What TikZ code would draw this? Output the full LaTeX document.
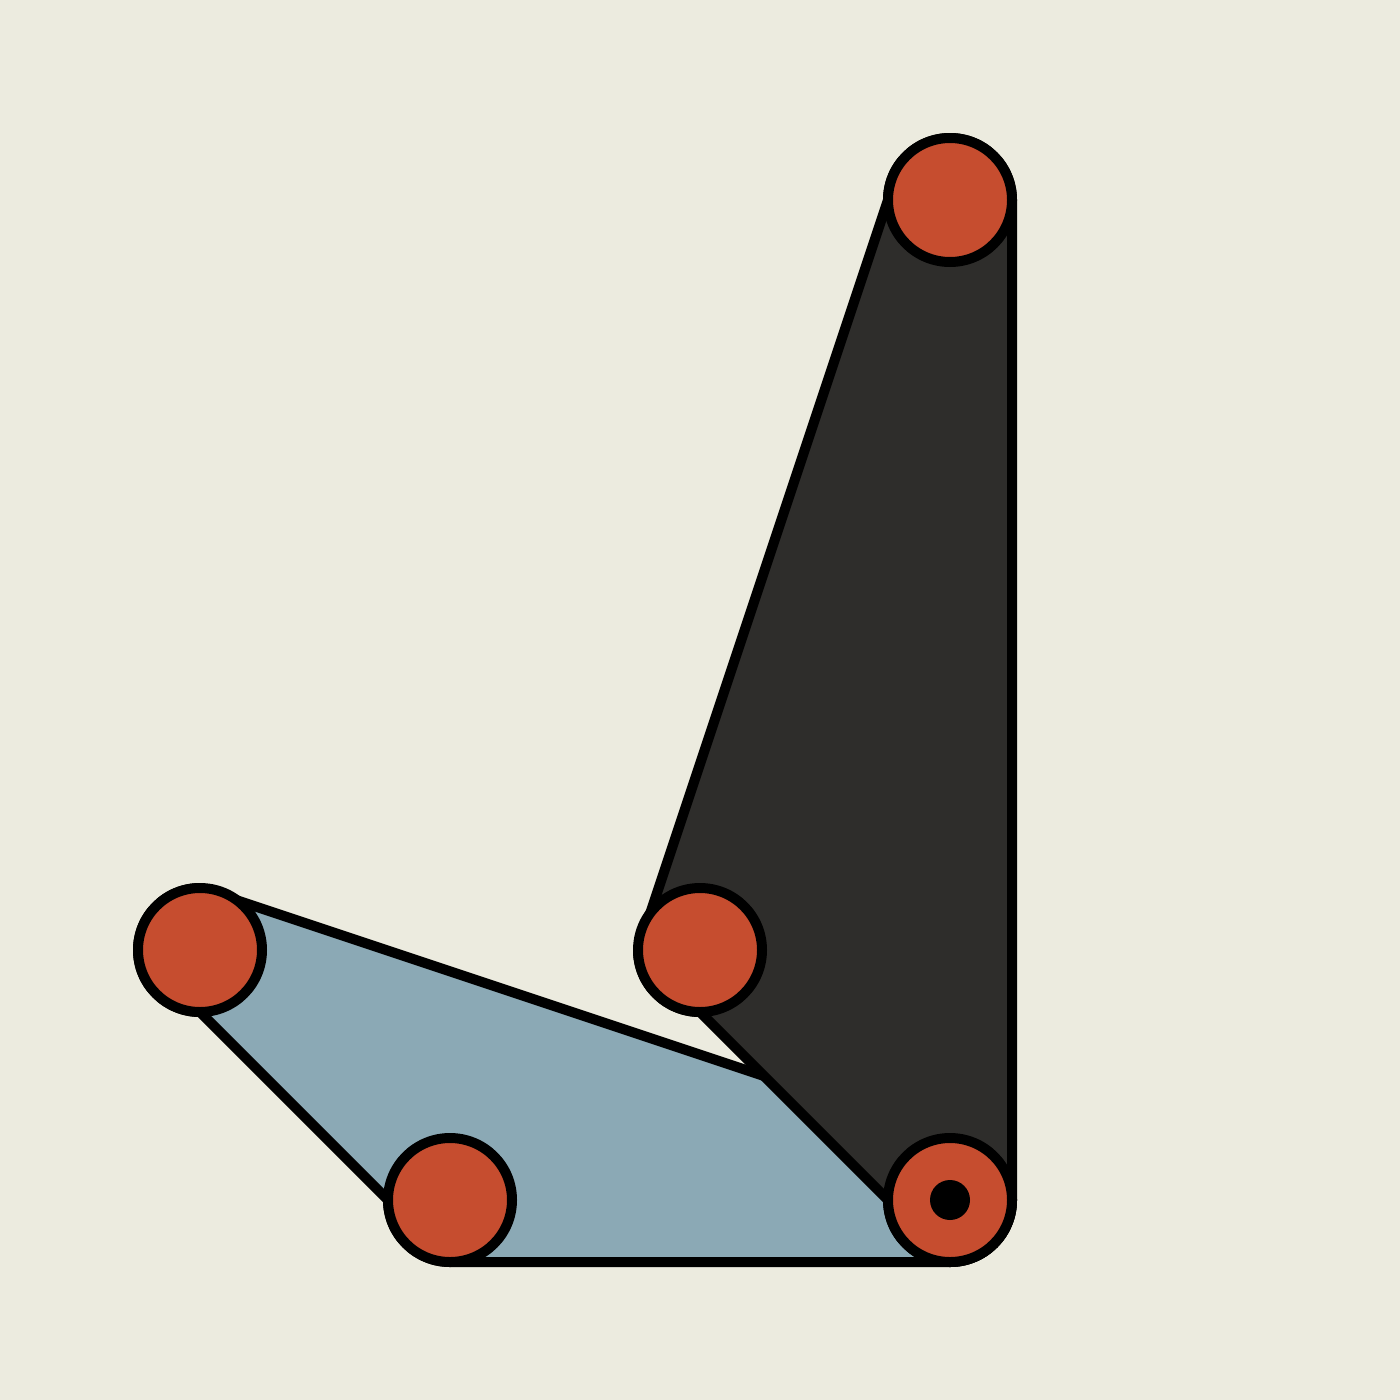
\documentclass[tikz,border=0pt]{standalone}
\definecolor{paper}{HTML}{ECEBDF}
\definecolor{linkblue}{HTML}{8BA9B5}
\definecolor{linkdark}{HTML}{2E2D2B}
\definecolor{jointred}{HTML}{C64D2F}
\begin{document}
\begin{tikzpicture}[x=1pt, y=-1pt]
    \tikzset{
        link/.style={draw=black, line width=10pt, line join=round},
        joint/.style={circle, draw=black, fill=jointred, line width=10pt, minimum size=124pt, inner sep=0pt},
        pin/.style={circle, fill=black, minimum size=40pt, inner sep=0pt}
    }
    \fill [paper] (0,0) rectangle (1400,1400);
    \useasboundingbox (0,0) rectangle (1400,1400);

    % blue link
    \draw [link, fill=linkblue] (200,888) -- (950,1138) arc [start angle=-90, end angle=90, radius=62]
        -- (450,1262) arc [start angle=90, end angle=180, radius=62]
        -- (200,1012) arc [start angle=90, end angle=270, radius=62] -- cycle;

    % dark link
    \draw [link, fill=linkdark] (1012,200) arc [start angle=0, end angle=-180, radius=62]
        -- (638,950) arc [start angle=180, end angle=90, radius=62]
        -- (888,1200) arc [start angle=180, end angle=0, radius=62] -- cycle;

    \node [joint] (top) at (950,200) {};
    \node [joint] (mid) at (700,950) {};
    \node [joint] (left) at (200,950) {};
    \node [joint] (low) at (450,1200) {};
    \node [joint] (base) at (950,1200) {};
    \node [pin] (basepin) at (base) {};
\end{tikzpicture}
\end{document}
